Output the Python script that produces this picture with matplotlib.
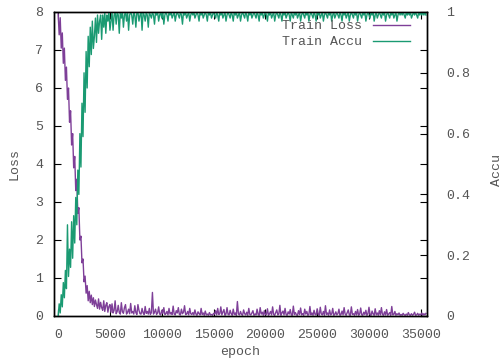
import numpy as np
import matplotlib
matplotlib.use("Agg")
import matplotlib.pyplot as plt

epochs = np.arange(0, 35501, 100)

# values (noisy, so estimated), 20 per row = 2000 epochs
loss = [
    7.95, 7.40, 7.85, 7.05, 7.45, 6.65, 7.05, 6.20, 6.55, 5.70,
    6.00, 5.10, 5.40, 4.50, 4.80, 3.90, 4.20, 3.30, 3.60, 2.70,
    2.85, 2.00, 2.10, 1.40, 1.50, 0.90, 1.05, 0.60, 0.80, 0.40,
    0.65, 0.35, 0.55, 0.30, 0.48, 0.25, 0.42, 0.30, 0.20, 0.45,
    0.18, 0.36, 0.22, 0.15, 0.40, 0.12, 0.28, 0.35, 0.10, 0.25,
    0.30,
    0.10, 0.32, 0.08, 0.15, 0.40, 0.06, 0.12, 0.28, 0.09, 0.05, 0.35, 0.11, 0.07, 0.22, 0.30, 0.05, 0.10, 0.18, 0.06, 0.33,
    0.08, 0.12, 0.05, 0.27, 0.09, 0.04, 0.30, 0.15, 0.06, 0.05, 0.20, 0.08, 0.04, 0.25, 0.07, 0.12, 0.05, 0.20, 0.04, 0.09,
    0.62, 0.05, 0.10, 0.18, 0.04, 0.08, 0.24, 0.05, 0.03, 0.15, 0.07, 0.22, 0.04, 0.06, 0.12, 0.03, 0.20, 0.05, 0.09, 0.04,
    0.26, 0.05, 0.03, 0.14, 0.08, 0.22, 0.04, 0.03, 0.18, 0.06, 0.10, 0.27, 0.04, 0.05, 0.12, 0.03, 0.20, 0.06, 0.04, 0.09,
    0.03, 0.16, 0.05, 0.02, 0.11, 0.06, 0.03, 0.20, 0.04, 0.08, 0.02, 0.13, 0.03, 0.05, 0.02, 0.09, 0.03, 0.04, 0.02, 0.07,
    0.05, 0.14, 0.03, 0.20, 0.04, 0.06, 0.24, 0.03, 0.10, 0.17, 0.02, 0.05, 0.22, 0.04, 0.03, 0.15, 0.06, 0.02, 0.18, 0.04,
    0.08, 0.02, 0.38, 0.05, 0.03, 0.12, 0.04, 0.02, 0.16, 0.06, 0.03, 0.10, 0.02, 0.20, 0.04, 0.03, 0.08, 0.14, 0.02, 0.05,
    0.03, 0.18, 0.04, 0.02, 0.22, 0.05, 0.10, 0.02, 0.14, 0.03, 0.04, 0.19, 0.02, 0.06, 0.12, 0.03, 0.24, 0.04, 0.02, 0.09,
    0.16, 0.03, 0.05, 0.28, 0.02, 0.08, 0.13, 0.03, 0.20, 0.04, 0.02, 0.11, 0.05, 0.17, 0.03, 0.02, 0.26, 0.04, 0.09, 0.03,
    0.02, 0.14, 0.04, 0.21, 0.03, 0.06, 0.02, 0.18, 0.05, 0.12, 0.02, 0.04, 0.25, 0.03, 0.08, 0.02, 0.15, 0.04, 0.03, 0.19,
    0.04, 0.02, 0.23, 0.05, 0.03, 0.12, 0.02, 0.27, 0.04, 0.08, 0.02, 0.16, 0.03, 0.05, 0.20, 0.02, 0.04, 0.11, 0.03, 0.06,
    0.18, 0.02, 0.04, 0.13, 0.03, 0.22, 0.05, 0.02, 0.09, 0.16, 0.03, 0.02, 0.24, 0.04, 0.06, 0.02, 0.12, 0.03, 0.17, 0.02,
    0.05, 0.21, 0.03, 0.02, 0.10, 0.04, 0.15, 0.02, 0.06, 0.23, 0.03, 0.02, 0.13, 0.05, 0.02, 0.19, 0.03, 0.08, 0.02, 0.14,
    0.03, 0.22, 0.04, 0.02, 0.11, 0.03, 0.17, 0.02, 0.05, 0.09, 0.02, 0.25, 0.03, 0.04, 0.12, 0.02, 0.06, 0.03, 0.08, 0.02,
    0.04, 0.02, 0.07, 0.03, 0.02, 0.05, 0.02, 0.09, 0.03, 0.02, 0.06, 0.02, 0.04, 0.10, 0.02, 0.03, 0.07, 0.02, 0.05, 0.03,
    0.08, 0.02, 0.06, 0.03, 0.07,
]

accu = [
    0.00, 0.04, 0.01, 0.07, 0.03, 0.11, 0.06, 0.15, 0.09, 0.30,
    0.13, 0.22, 0.16, 0.31, 0.19, 0.33, 0.24, 0.39, 0.30, 0.48,
    0.40, 0.60, 0.49, 0.70, 0.59, 0.80, 0.67, 0.87, 0.75, 0.92,
    0.82, 0.95, 0.86, 0.97, 0.88, 0.92, 0.98, 0.90, 0.99, 0.93,
    0.97, 0.99, 0.91, 0.99, 0.95, 1.00, 0.93, 0.99, 0.97, 1.00,
    0.94,
    0.97, 1.00, 0.94, 0.99, 1.00, 0.96, 1.00, 0.99, 0.93, 1.00, 0.98, 1.00, 0.95, 0.99, 1.00, 0.97, 1.00, 0.94, 0.99, 1.00,
    0.99, 0.96, 1.00, 0.99, 0.95, 1.00, 1.00, 0.97, 0.99, 1.00, 0.94, 1.00, 0.99, 0.97, 1.00, 0.99, 0.95, 1.00, 0.99, 0.98,
    1.00, 0.99, 0.96, 1.00, 0.99, 1.00, 0.97, 0.99, 1.00, 0.98, 1.00, 0.96, 0.99, 1.00, 0.99, 0.97, 1.00, 0.99, 1.00, 0.98,
    0.99, 1.00, 0.97, 0.99, 1.00, 0.99, 0.98, 1.00, 0.99, 0.96, 1.00, 0.99, 1.00, 0.98, 0.99, 1.00, 0.97, 0.99, 1.00, 0.99,
    1.00, 0.98, 0.99, 1.00, 0.99, 0.97, 1.00, 0.99, 1.00, 0.98, 0.99, 1.00, 0.99, 0.97, 1.00, 0.99, 1.00, 0.98, 0.99, 1.00,
    0.99, 0.98, 1.00, 0.99, 0.97, 1.00, 0.99, 1.00, 0.98, 0.99, 1.00, 0.97, 0.99, 1.00, 0.99, 0.98, 1.00, 0.99, 0.97, 1.00,
    0.99, 1.00, 0.98, 0.99, 1.00, 0.97, 0.99, 1.00, 0.99, 0.98, 1.00, 0.99, 0.97, 1.00, 0.99, 1.00, 0.98, 0.99, 1.00, 0.99,
    0.98, 1.00, 0.99, 0.97, 1.00, 0.99, 1.00, 0.98, 0.99, 1.00, 0.99, 0.97, 1.00, 0.99, 1.00, 0.98, 0.99, 1.00, 0.97, 0.99,
    1.00, 0.99, 0.98, 1.00, 0.99, 0.97, 1.00, 0.99, 1.00, 0.98, 0.99, 1.00, 0.99, 0.97, 1.00, 0.99, 0.98, 1.00, 0.99, 1.00,
    0.98, 0.99, 1.00, 0.97, 0.99, 1.00, 0.99, 0.98, 1.00, 0.99, 1.00, 0.97, 0.99, 1.00, 0.99, 0.98, 1.00, 0.99, 0.97, 1.00,
    0.99, 1.00, 0.98, 0.99, 1.00, 0.97, 0.99, 1.00, 0.99, 0.98, 1.00, 0.99, 1.00, 0.97, 0.99, 1.00, 0.98, 0.99, 1.00, 0.99,
    0.98, 1.00, 0.99, 0.97, 1.00, 0.99, 1.00, 0.98, 0.99, 1.00, 0.97, 0.99, 1.00, 0.99, 0.98, 1.00, 0.99, 1.00, 0.97, 0.99,
    1.00, 0.99, 0.98, 1.00, 0.99, 1.00, 0.97, 0.99, 1.00, 0.99, 0.98, 1.00, 0.99, 1.00, 0.97, 0.99, 1.00, 0.98, 0.99, 1.00,
    0.99, 0.98, 1.00, 0.99, 1.00, 0.97, 0.99, 1.00, 0.99, 0.98, 1.00, 0.99, 1.00, 0.98, 0.99, 1.00, 0.97, 0.99, 1.00, 0.99,
    1.00, 0.99, 1.00, 0.99, 0.98, 1.00, 0.99, 1.00, 0.99, 1.00, 0.98, 0.99, 1.00, 0.99, 1.00, 0.99, 0.98, 1.00, 0.99, 1.00,
    0.99, 1.00, 0.99, 1.00, 0.99,
]

plt.rcParams['font.family'] = ['Liberation Mono', 'DejaVu Sans Mono']
plt.rcParams['font.size'] = 9.5
txt_color = "#555555"

fig = plt.figure(figsize=(5.02, 3.62), dpi=100)
W, H = 502, 362
ax = fig.add_axes([54 / W, (H - 316) / H, (427 - 54) / W, (316 - 12) / H])
ax2 = ax.twinx()

l1, = ax.plot(epochs, loss, color="#7e3f98", lw=1.0, label="Train Loss")
l2, = ax2.plot(epochs, accu, color="#1a9a72", lw=1.0, label="Train Accu")

ax.set_xlim(-400, 35600)
ax.set_ylim(0, 8)
ax2.set_ylim(0, 1)
ax.set_xticks([0, 5000, 10000, 15000, 20000, 25000, 30000, 35000])
ax.set_yticks(range(0, 9))
ax2.set_yticks([0, 0.2, 0.4, 0.6, 0.8, 1])
ax2.set_yticklabels(["0", "0.2", "0.4", "0.6", "0.8", "1"])

ax.tick_params(direction="in", top=True, right=True, length=5, width=0.8,
               labelcolor=txt_color)
ax.tick_params(axis="y", pad=8)
ax.tick_params(axis="x", pad=9)
ax2.tick_params(direction="in", length=5, width=0.8, labelcolor=txt_color, pad=14)

for a in (ax, ax2):
    for s in a.spines.values():
        s.set_linewidth(1.0)

fig.text(15 / W, 1 - 164 / H, "Loss", rotation=90, ha="center", va="center",
         color=txt_color)
fig.text(497 / W, 1 - 170 / H, "Accu", rotation=90, ha="center", va="center",
         color=txt_color)
fig.text(240 / W, 1 - 352 / H, "epoch", ha="center", va="center", color=txt_color)

leg = ax2.legend(handles=[l1, l2], loc="upper right",
                 bbox_to_anchor=((410 - 54) / 373, (316 - 20) / 304),
                 frameon=False, markerfirst=False, borderpad=0, borderaxespad=0,
                 handlelength=2.8, handletextpad=0.8, labelspacing=0.3)
for t in leg.get_texts():
    t.set_color(txt_color)

fig.savefig("out.png", dpi=100)
